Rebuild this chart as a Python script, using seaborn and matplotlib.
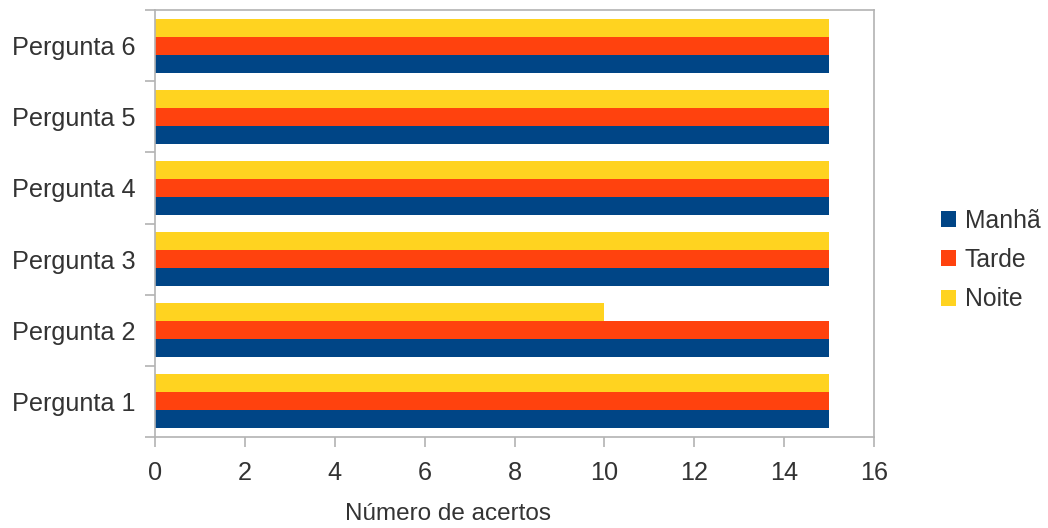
import matplotlib.pyplot as plt
import seaborn as sns
import pandas as pd
from matplotlib.patches import Patch

# ---------------------------------------------
# DATA
# ---------------------------------------------
perguntas = ["Pergunta 1", "Pergunta 2", "Pergunta 3", "Pergunta 4", "Pergunta 5", "Pergunta 6"]
manha = [15, 15, 15, 15, 15, 15]
tarde = [15, 15, 15, 15, 15, 15]
noite = [15, 10, 15, 15, 15, 15]

turnos = ["Manhã", "Tarde", "Noite"]
cores = {"Manhã": "#004586", "Tarde": "#ff420e", "Noite": "#ffd320"}

df = pd.DataFrame({"Pergunta": perguntas, "Manhã": manha, "Tarde": tarde, "Noite": noite})
df = df.melt(id_vars="Pergunta", var_name="Turno", value_name="Acertos")

# ---------------------------------------------
# PLOT
# ---------------------------------------------
sns.set_style("white")
plt.rcParams["font.family"] = ["Liberation Sans", "DejaVu Sans"]
texto = "#333333"
cinza = "#b3b3b3"

fig = plt.figure(figsize=(10.48, 5.28), dpi=100)
ax = fig.add_axes([155 / 1048, 1 - 437 / 528, (874 - 155) / 1048, (437 - 10) / 528])

sns.barplot(data=df, y="Pergunta", x="Acertos", hue="Turno",
            order=perguntas[::-1], hue_order=turnos[::-1],
            palette=cores, orient="h", width=0.76, saturation=1,
            edgecolor="none", linewidth=0, legend=False, ax=ax)

ax.set_xlim(0, 16)
ax.set_xticks(range(0, 17, 2))
ax.set_ylim(len(perguntas) - 0.5, -0.5)
ax.set_yticks(range(len(perguntas)))
ax.set_yticks([i - 0.5 for i in range(len(perguntas) + 1)], minor=True)
ax.set_xlabel("")
ax.set_ylabel("")

for s in ax.spines.values():
    s.set_color(cinza)
    s.set_linewidth(1.2)

ax.tick_params(axis="y", which="major", length=0, pad=14, labelsize=18.2, labelcolor=texto)
ax.tick_params(axis="y", which="minor", length=7.5, width=1.2, color=cinza, left=True)
ax.tick_params(axis="x", which="major", length=7.5, width=1.2, color=cinza, bottom=True,
               pad=10, labelsize=18.2, labelcolor=texto)

fig.text(448 / 1048, 3 / 528, "Número de acertos", ha="center", va="bottom",
         fontsize=17.5, color=texto)

handles = [Patch(facecolor=cores[t], edgecolor="none", label=t) for t in turnos]
fig.legend(handles=handles, loc="center left", bbox_to_anchor=(941 / 1048, 1 - 260 / 528),
           frameon=False, fontsize=17.8, labelcolor=texto, handlelength=0.62,
           handleheight=0.62, handletextpad=0.35, labelspacing=0.62,
           borderpad=0, borderaxespad=0)

plt.savefig("out.png", dpi=100)
